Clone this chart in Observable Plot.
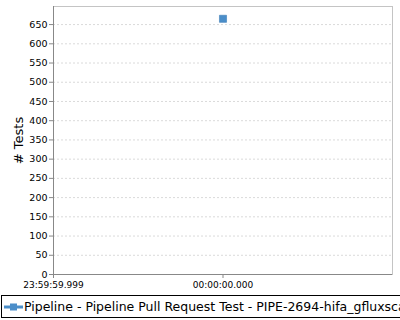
<!DOCTYPE html>
<html>
<head>
<meta charset="utf-8">
<script src="https://cdn.jsdelivr.net/npm/d3@7"></script>
<script src="https://cdn.jsdelivr.net/npm/@observablehq/plot@0.6"></script>
<style>
  html, body { margin: 0; padding: 0; background: #fff; }
  body { width: 400px; height: 320px; overflow: hidden; font-family: "DejaVu Sans", sans-serif; }
  #legend {
    position: relative; margin-left: 1px; margin-top: 3px; height: 23px; width: 399px;
    border: 1px solid #000; border-right: none; box-sizing: border-box; white-space: nowrap; overflow: hidden;
    font-size: 12.5px; line-height: 21px; color: #000;
  }
  #legend svg { position: absolute; left: 2px; top: 5px; }
  #legend span { position: absolute; left: 22px; top: 0px; }
</style>
</head>
<body>
<div id="chart"></div>
<div id="legend"></div>
<script>
const seriesName = "Pipeline - Pipeline Pull Request Test - PIPE-2694-hifa_gfluxscale";
const times = ["1970-01-01T00:00:00.000Z"];
const tests = [665];
const xTicks = ["1969-12-31T23:59:59.999Z", "1970-01-01T00:00:00.000Z"];
const yTicks = [0, 50, 100, 150, 200, 250, 300, 350, 400, 450, 500, 550, 600, 650];

const data = times.map((t, i) => ({t: new Date(t), v: tests[i]}));
const blue = "#4b8ec9";
const fmt = d3.utcFormat("%H:%M:%S.%L");

const chart = Plot.plot({
  width: 400,
  height: 292,
  marginLeft: 53,
  marginRight: 8,
  marginTop: 6,
  marginBottom: 18,
  style: {fontFamily: "DejaVu Sans, sans-serif", fontSize: "9px", color: "#000", background: "#fff"},
  x: {type: "utc", domain: [new Date(-1), new Date(1)]},
  y: {domain: [0, 697]},
  marks: [
    Plot.gridY(yTicks, {stroke: "#dadada", strokeOpacity: 1, strokeDasharray: "2,2"}),
    Plot.frame({stroke: "#c4c4c4", strokeWidth: 1}),
    Plot.ruleX([new Date(-1)], {stroke: "#888"}),
    Plot.ruleY([0], {stroke: "#888"}),
    Plot.axisY(yTicks, {tickSize: 4, tickPadding: 2, stroke: "#888", fill: "#000", label: null, fontSize: 9.5}),
    Plot.axisX(xTicks.map(d => new Date(d)), {tickSize: 4, tickPadding: 3, stroke: "#888", fill: "#000", label: null, tickFormat: fmt, fontSize: 9}),
    Plot.text(["# Tests"], {frameAnchor: "left", textAnchor: "middle", dx: -35, rotate: -90, fontSize: 13, fill: "#000"}),
    Plot.dot(data, {x: "t", y: "v", symbol: "square", r: 4, fill: blue, stroke: "#3f7fb9", strokeWidth: 0.6})
  ]
});
document.getElementById("chart").appendChild(chart);

const legend = document.getElementById("legend");
legend.innerHTML = `<svg width="20" height="12"><line x1="0" y1="6" x2="19" y2="6" stroke="${blue}" stroke-width="3"/><rect x="6" y="2.5" width="7" height="7" fill="${blue}"/></svg><span></span>`;
legend.querySelector("span").textContent = seriesName;
</script>
</body>
</html>
